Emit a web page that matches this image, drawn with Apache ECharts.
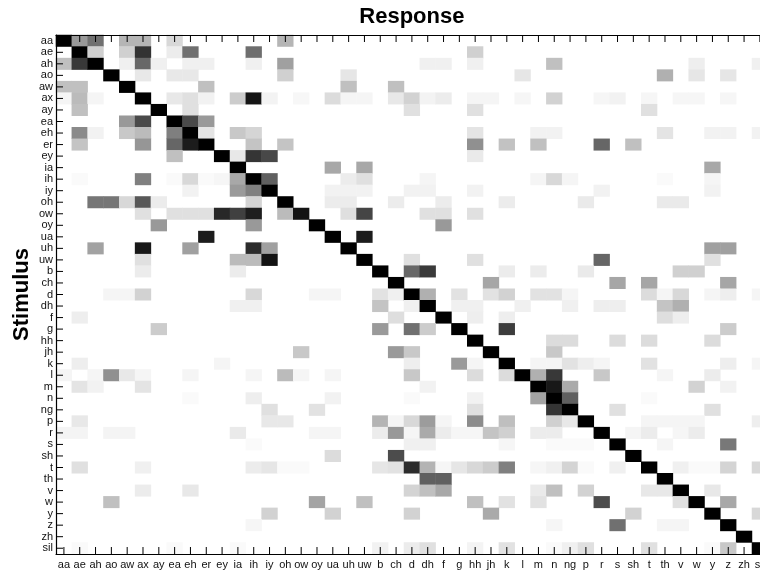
<!DOCTYPE html>
<html>
<head>
<meta charset="utf-8">
<style>html,body{margin:0;padding:0;background:#fff}#c{width:760px;height:572px}</style>
<script src="https://cdn.jsdelivr.net/npm/echarts@6/dist/echarts.min.js"></script>
</head>
<body>
<div id="c"></div>
<script>
const phones = ['aa','ae','ah','ao','aw','ax','ay','ea','eh','er','ey','ia','ih','iy','oh','ow','oy','ua','uh','uw','b','ch','d','dh','f','g','hh','jh','k','l','m','n','ng','p','r','s','sh','t','th','v','w','y','z','zh','sil'];
// Each row: [response column index, grey shade (0 = black, 255 = white)]
const row_aa = [[0,0x00],[1,0x99],[2,0x70],[4,0xb5],[5,0xb5],[7,0xd8],[14,0xb5]];
const row_ae = [[1,0x00],[2,0xd0],[4,0xd0],[5,0x33],[7,0xec],[8,0x70],[12,0x6e],[26,0xd0]];
const row_ah = [[0,0xc0],[1,0x38],[2,0x00],[4,0xf0],[5,0x68],[6,0xf0],[8,0xf0],[9,0xf0],[12,0xf0],[14,0xa0],[23,0xf0],[24,0xf0],[26,0xf0],[31,0xc0],[40,0xee],[44,0xf0]];
const row_ao = [[3,0x00],[5,0xe8],[7,0xe8],[8,0xe8],[14,0xd0],[18,0xe6],[29,0xe6],[38,0xb0],[40,0xe6],[42,0xe6]];
const row_aw = [[0,0xc0],[1,0xc0],[4,0x00],[9,0xc0],[18,0xc0],[21,0xc0]];
const row_ax = [[0,0xf5],[1,0xbb],[2,0xf5],[5,0x00],[7,0xe8],[8,0xe0],[9,0xf2],[11,0xcc],[12,0x15],[13,0xf3],[15,0xf7],[17,0xdc],[18,0xf5],[19,0xf5],[21,0xe8],[22,0xd2],[23,0xf3],[24,0xec],[26,0xf5],[27,0xf5],[29,0xf6],[31,0xd2],[34,0xf6],[35,0xf2],[37,0xf6],[39,0xf6],[40,0xf6],[42,0xf6]];
const row_ay = [[1,0xc0],[6,0x00],[8,0xe0],[22,0xe0],[26,0xe0],[37,0xe0]];
const row_ea = [[4,0x99],[5,0x4a],[7,0x00],[8,0x4a],[9,0x99]];
const row_eh = [[1,0x8a],[2,0xf2],[4,0xc8],[5,0xbb],[7,0x7f],[8,0x00],[9,0xe4],[11,0xc8],[12,0xd5],[26,0xe4],[30,0xf2],[31,0xf2],[38,0xe4],[41,0xf2],[42,0xf2],[44,0xf2]];
const row_er = [[1,0xc4],[5,0x96],[7,0x66],[8,0x1c],[9,0x00],[12,0xc4],[14,0xc4],[26,0x90],[28,0xc2],[30,0xc0],[34,0x66],[36,0xc0]];
const row_ey = [[7,0xc0],[10,0x00],[11,0xe8],[12,0x35],[13,0x48],[26,0xea]];
const row_ia = [[11,0x00],[17,0xa8],[19,0xa8],[41,0xa8]];
const row_ih = [[1,0xfa],[5,0x80],[7,0xfa],[8,0xd8],[9,0xfa],[10,0xf6],[11,0xa8],[12,0x00],[13,0x60],[18,0xec],[19,0xe0],[23,0xf5],[30,0xf5],[31,0xd8],[32,0xf5],[38,0xfa],[41,0xf5]];
const row_iy = [[8,0xf2],[11,0x9a],[12,0x80],[13,0x00],[17,0xf2],[18,0xf2],[19,0xf2],[22,0xf2],[23,0xf2],[26,0xf2],[34,0xf2],[41,0xf2]];
const row_oh = [[2,0x76],[3,0x76],[4,0xd8],[5,0x58],[6,0xec],[12,0xd4],[14,0x00],[17,0xec],[18,0xec],[21,0xec],[24,0xec],[28,0xec],[33,0xea],[38,0xea],[39,0xea]];
const row_ow = [[5,0xe0],[7,0xe0],[8,0xe0],[9,0xe0],[10,0x28],[11,0x40],[12,0x1e],[14,0xbb],[15,0x14],[18,0xdf],[19,0x45],[23,0xe0],[24,0xe0],[26,0xe0]];
const row_oy = [[6,0x99],[12,0x99],[16,0x00],[24,0x99]];
const row_ua = [[9,0x1c],[17,0x00],[19,0x1c]];
const row_uh = [[2,0xa2],[5,0x18],[8,0xa0],[12,0x2c],[13,0xa0],[18,0x00],[41,0xa0],[42,0xa0]];
const row_uw = [[5,0xe0],[11,0xbb],[12,0xbb],[13,0x12],[19,0x00],[22,0xe0],[26,0xe0],[34,0x66],[41,0xe0]];
const row_b = [[5,0xec],[11,0xec],[20,0x00],[22,0x68],[23,0x3a],[28,0xec],[30,0xec],[33,0xea],[39,0xd0],[40,0xd0]];
const row_ch = [[21,0x00],[27,0xa6],[35,0xa6],[37,0xa6],[42,0xa6]];
const row_d = [[3,0xf5],[4,0xf5],[5,0xd2],[12,0xd8],[16,0xf5],[17,0xf5],[20,0xe2],[21,0xf0],[22,0x00],[23,0xb0],[25,0xe2],[27,0xe2],[28,0xd2],[30,0xe2],[31,0xe2],[32,0xf5],[37,0xdc],[38,0xf5],[39,0xd8],[41,0xf5],[42,0xee],[44,0xf5]];
const row_dh = [[11,0xf0],[12,0xf0],[20,0xc4],[22,0xf0],[23,0x00],[25,0xf0],[26,0xf0],[29,0xf0],[32,0xf0],[34,0xee],[35,0xee],[38,0xc4],[39,0xb0]];
const row_f = [[1,0xee],[21,0xde],[24,0x00],[26,0xee],[28,0xee],[38,0xde],[39,0xee]];
const row_g = [[6,0xcc],[20,0x9a],[22,0x70],[23,0xcc],[25,0x00],[28,0x3c],[42,0xcc]];
const row_hh = [[26,0x00],[31,0xdc],[32,0xdc],[35,0xdc],[37,0xdc],[41,0xdc]];
const row_jh = [[15,0xc8],[21,0x9a],[22,0xc8],[27,0x00],[31,0xc8]];
const row_k = [[1,0xee],[10,0xf5],[22,0xee],[25,0x9a],[26,0xf5],[28,0x00],[30,0xf5],[31,0xf5],[32,0xe2],[33,0xee],[34,0xf5],[37,0xe2],[42,0xee],[44,0xf5]];
const row_l = [[0,0xf5],[2,0xf5],[3,0x90],[4,0xe8],[5,0xf5],[8,0xf5],[12,0xf5],[14,0xbb],[15,0xf5],[17,0xf5],[22,0xc8],[26,0xdc],[28,0xdc],[29,0x00],[30,0xb0],[31,0x38],[34,0xc8],[38,0xf5],[41,0xec]];
const row_m = [[1,0xe4],[2,0xf2],[5,0xe4],[23,0xf2],[30,0x00],[31,0x18],[32,0xaa],[40,0xd2],[42,0xf2]];
const row_n = [[8,0xfa],[12,0xee],[17,0xf2],[22,0xfa],[26,0xf2],[30,0xa4],[31,0x00],[32,0x60],[37,0xfa]];
const row_ng = [[13,0xe0],[16,0xe2],[26,0xe0],[31,0x35],[32,0x00],[35,0xe0],[41,0xe0]];
const row_p = [[1,0xe8],[13,0xe8],[14,0xe8],[20,0xb4],[21,0xf5],[22,0xd8],[23,0x9c],[24,0xf5],[26,0x8c],[28,0xbf],[31,0xd0],[32,0xe8],[33,0x00],[37,0xf5],[38,0xf5],[39,0xf5],[40,0xf5],[44,0xee]];
const row_r = [[0,0xf4],[1,0xf4],[3,0xf4],[4,0xf4],[11,0xea],[16,0xf5],[17,0xf5],[20,0xec],[21,0x98],[22,0xf5],[23,0xaa],[24,0xec],[25,0xf6],[26,0xf6],[27,0xc4],[28,0xd0],[30,0xec],[31,0xec],[34,0x00],[36,0xf5],[37,0xec],[39,0xf6],[40,0xec]];
const row_s = [[12,0xfa],[22,0xf0],[23,0xf0],[28,0xf6],[31,0xfa],[32,0xfa],[33,0xfa],[35,0x00],[38,0xf5],[42,0x78]];
const row_sh = [[17,0xdc],[21,0x4c],[36,0x00]];
const row_t = [[1,0xe0],[5,0xf0],[12,0xec],[13,0xe6],[14,0xfa],[15,0xfa],[20,0xe6],[21,0xe2],[22,0x2c],[23,0xb4],[24,0xf6],[25,0xe6],[26,0xd8],[27,0xcc],[28,0x80],[30,0xf6],[31,0xf0],[32,0xd4],[33,0xfa],[35,0xf0],[37,0x00],[39,0xf0],[40,0xfa],[41,0xfa],[42,0xd4],[44,0xd8]];
const row_th = [[23,0x60],[24,0x60],[38,0x00]];
const row_v = [[5,0xec],[8,0xe8],[22,0xd4],[23,0xc0],[24,0xa8],[30,0xea],[31,0xc0],[33,0xd2],[37,0xe8],[38,0xe8],[39,0x00],[41,0xe8]];
const row_w = [[3,0xc0],[16,0xa4],[19,0xc0],[26,0xc0],[28,0xe2],[30,0xe2],[34,0x4c],[39,0xe0],[40,0x00],[42,0xa8]];
const row_y = [[13,0xd2],[17,0xd2],[22,0xd2],[27,0xaa],[36,0xd2],[41,0x00],[44,0xd8]];
const row_z = [[12,0xf6],[31,0xf6],[35,0x70],[38,0xf5],[39,0xf5],[42,0x00]];
const row_zh = [[43,0x00]];
const row_sil = [[1,0xfa],[7,0xfa],[11,0xfa],[20,0xf2],[22,0xec],[23,0xe0],[26,0xf4],[28,0xe2],[31,0xfa],[32,0xf0],[33,0xe0],[37,0xe0],[41,0xfa],[42,0xc8],[44,0x00]];
const rows = [row_aa,row_ae,row_ah,row_ao,row_aw,row_ax,row_ay,row_ea,row_eh,row_er,row_ey,row_ia,row_ih,row_iy,row_oh,row_ow,row_oy,row_ua,row_uh,row_uw,row_b,row_ch,row_d,row_dh,row_f,row_g,row_hh,row_jh,row_k,row_l,row_m,row_n,row_ng,row_p,row_r,row_s,row_sh,row_t,row_th,row_v,row_w,row_y,row_z,row_zh,row_sil];

const cells = [];
rows.forEach((row, r) => row.forEach(([c, shade]) => cells.push([c, r, shade])));

const FONT = '"Liberation Sans", Arial, sans-serif';
const line = () => ({show:true, onZero:false, lineStyle:{color:'#000', width:1.2}});
const label = {show:true, interval:0, color:'#111', fontFamily:FONT, fontSize:11, hideOverlap:false};
const nameStyle = {color:'#000', fontFamily:FONT, fontSize:22, fontWeight:'bold'};
const TICK = 7;
const last = phones.length - 1;

// Inward ticks at each band centre, positioned through the chart's own axes.
function renderTicks(params, api) {
  const i = api.value(0);
  const w = api.size([1, 0])[0], h = api.size([0, 1])[1];
  const top = api.coord([i, 0]), bottom = api.coord([i, last]), left = api.coord([0, i]);
  const yTop = top[1] - h / 2, yBot = bottom[1] + h / 2, xLeft = left[0] - w / 2;
  const seg = (x1, y1, x2, y2) => ({type:'line', shape:{x1, y1, x2, y2}, style:{stroke:'#000', lineWidth:1}});
  return {type:'group', children:[
    seg(top[0], yTop, top[0], yTop + TICK),
    seg(bottom[0], yBot, bottom[0], yBot - TICK),
    seg(xLeft, left[1], xLeft + TICK, left[1])
  ]};
}

const chart = echarts.init(document.getElementById('c'), null, {renderer:'canvas'});
chart.setOption({
  animation:false,
  backgroundColor:'#fff',
  grid:{left:56, top:35, width:711.8, height:519, containLabel:false, outerBoundsMode:'none'},
  visualMap:{show:false, type:'continuous', seriesIndex:0, min:0, max:255, dimension:2, inRange:{color:['#000000','#ffffff']}},
  xAxis:[
    {type:'category', position:'bottom', data:phones, axisLine:line(), axisTick:{show:false},
     axisLabel:Object.assign({margin:5}, label)},
    {type:'category', position:'top', data:phones, axisLine:line(), axisTick:{show:false},
     axisLabel:{show:false}, name:'Response', nameLocation:'middle', nameGap:7, nameMoveOverlap:false, nameTextStyle:nameStyle}
  ],
  yAxis:[
    {type:'category', position:'left', inverse:true, data:phones, axisLine:line(), axisTick:{show:false},
     axisLabel:Object.assign({margin:3}, label), name:'Stimulus', nameLocation:'middle', nameGap:23, nameMoveOverlap:false, nameTextStyle:nameStyle}
  ],
  series:[
    {type:'heatmap', z:-1, xAxisIndex:0, yAxisIndex:0, data:cells, progressive:0, itemStyle:{borderWidth:0}, emphasis:{disabled:true}},
    {type:'custom', z:3, silent:true, xAxisIndex:0, yAxisIndex:0, clip:false, renderItem:renderTicks,
     encode:{x:0, y:1}, data:phones.map((p, i) => [i, i])}
  ]
});
</script>
</body>
</html>
